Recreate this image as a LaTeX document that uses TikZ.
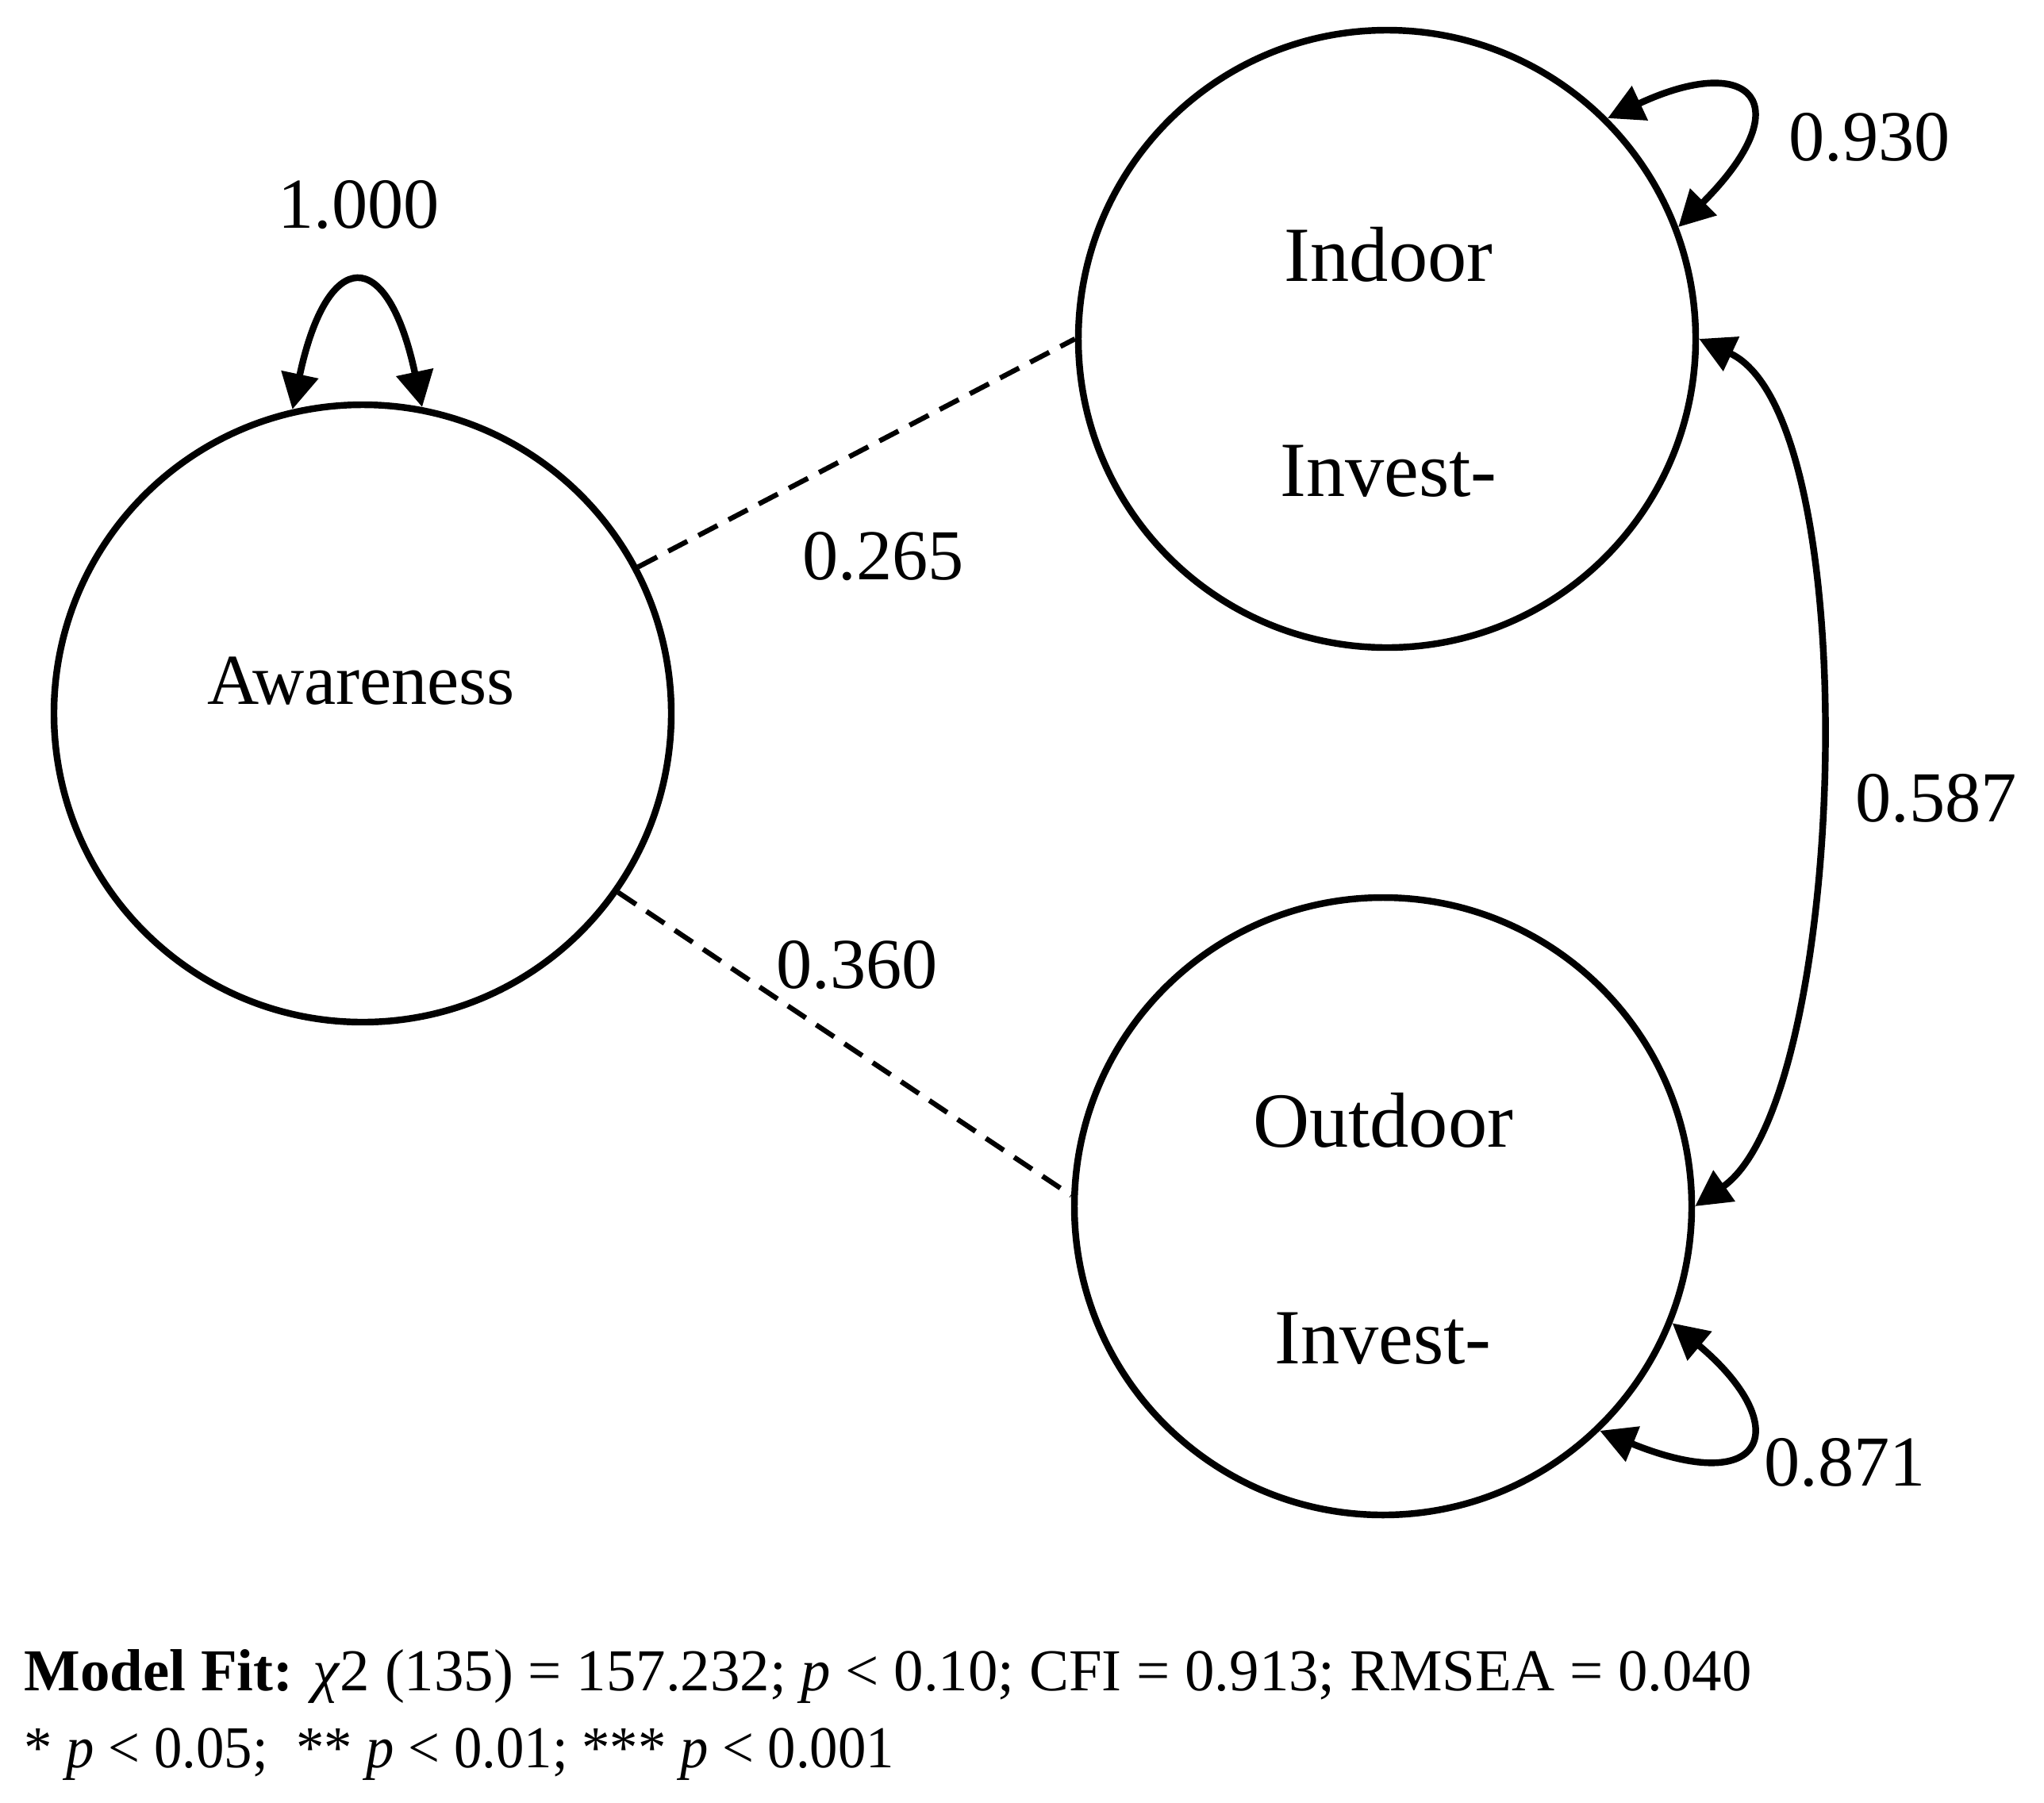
\documentclass[tikz,border=0pt]{standalone}
\usepackage{fontspec}
\setmainfont{Liberation Serif}
\usetikzlibrary{arrows.meta}

\begin{document}
\begin{tikzpicture}[%
      latentvar/.style={%
        circle,
        draw          = black,
        line width    = 2.4pt,
        minimum size  = 7.78cm,
        inner sep     = 0pt,
      },
      varname/.style={%
        inner sep     = 0pt,
        anchor        = base,
        font          = \fontsize{28}{32}\selectfont,
      },
      coefval/.style={%
        inner sep     = 0pt,
        anchor        = base,
        font          = \fontsize{25.7}{30}\selectfont,
      },
      fitline/.style={%
        inner sep     = 0pt,
        anchor        = base west,
        font          = \fontsize{21.3}{26}\selectfont,
      },
      pathline/.style={%
        dash pattern  = on 7.7pt off 4.5pt,
        line width    = 1.8pt,
      },
      twoway/.style={%
        {Triangle[length=4.5mm,width=4.6mm]}-{Triangle[length=4.5mm,width=4.6mm]},
        line width    = 2.4pt,
      }
      ]

      \useasboundingbox (0,0) rectangle (25.76,-22.71);

      \node[latentvar] (Aware) at (4.57,-8.99) {};
      \node[latentvar] (Indoor) at (17.48,-4.27) {};
      \node[latentvar] (Outdoor) at (17.43,-15.20) {};

      \node[coefval] (Aware-Name) at (4.55,-8.87) {Awareness};
      \node[varname] (Indoor-Name) at (17.50,-3.54) {Indoor};
      \node[varname] (Indoor-Inv) at (17.50,-6.25) {Invest-};
      \node[varname] (Outdoor-Name) at (17.43,-14.45) {Outdoor};
      \node[varname] (Outdoor-Inv) at (17.43,-17.18) {Invest-};

      \draw[pathline] (Aware.28) -- (Indoor.west);
      \draw[pathline] (Aware.-35) -- (Outdoor.178);

      \draw[twoway] (Aware.103) .. controls +(78:2.1) and +(102:2.1) .. (Aware.79);
      \draw[twoway] (Indoor.45) .. controls +(25:2) and +(45:2.2) .. (Indoor.21);
      \draw[twoway] (Outdoor.-22) .. controls +(-40:2) and +(-22:2.3) .. (Outdoor.-46);
      \draw[twoway] (Indoor.east) to[out=-25,in=35,looseness=0.55] (Outdoor.east);

      \node[coefval] (Aware-Var) at (4.52,-2.87) {1.000};
      \node[coefval] (Indoor-Var) at (23.56,-2.02) {0.930};
      \node[coefval] (Outdoor-Var) at (23.25,-18.72) {0.871};
      \node[coefval] (Indoor-Load) at (11.13,-7.30) {0.265};
      \node[coefval] (Outdoor-Load) at (10.80,-12.45) {0.360};
      \node[coefval] (Cov) at (24.40,-10.35) {0.587};

      \node[fitline] (Fit-1) at (0.30,-21.30) {\textbf{Model Fit:} \textit{χ}2 (135) = 157.232; \textit{p} < 0.10; CFI = 0.913; RMSEA = 0.040};
      \node[fitline] (Fit-2) at (0.30,-22.27) {\scalebox{0.945}[1]{* \textit{p} < 0.05;\ \ ** \textit{p} < 0.01; *** \textit{p} < 0.001}};

    \end{tikzpicture}
\end{document}
